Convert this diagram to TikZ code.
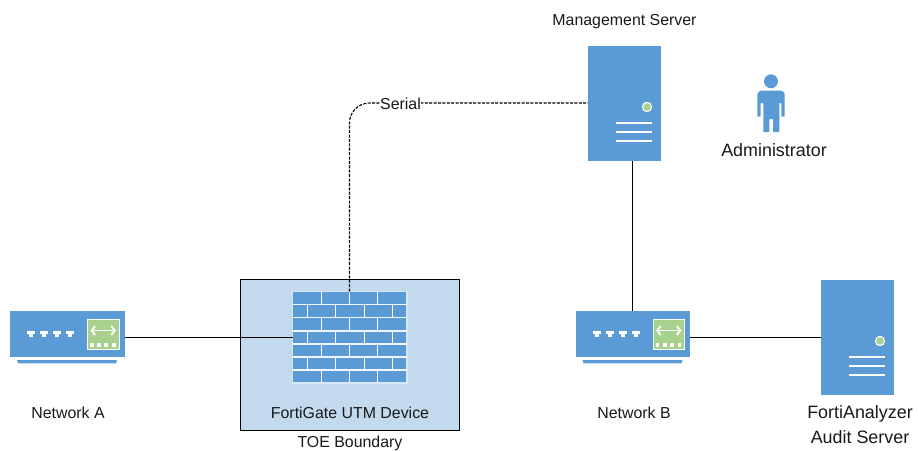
\documentclass[tikz,border=0pt]{standalone}
\usepackage{fontspec}
\setmainfont{Liberation Sans}
\usetikzlibrary{arrows.meta}
\definecolor{iconblue}{HTML}{5B9BD5}
\definecolor{paleblue}{HTML}{C3D9EE}
\definecolor{icongreen}{HTML}{A9D18E}
\tikzset{
  x=1pt,y=-1pt,
  lbl/.style={inner sep=0pt,text=black!90,font=\fontsize{15.9}{18}\selectfont,align=center},
  biglbl/.style={inner sep=0pt,text=black!90,font=\fontsize{17.9}{24.5}\selectfont,align=center},
  iconbody/.style={fill=iconblue,draw=none,inner sep=0pt,outer sep=0pt},
  wline/.style={draw=white,line width=2pt},
  link/.style={draw=black,line width=1.2pt},
  seriallink/.style={draw=black,line width=1.1pt,dash pattern=on 3pt off 1.4pt},
}
\newcommand{\serverIcon}[3]{% name, left, top
  \node[iconbody,anchor=north west,minimum width=72.5pt,minimum height=115pt] (#1) at (#2,#3) {};
  \begin{scope}[shift={(#2,#3)}]
    \fill[icongreen,draw=white,line width=1.1pt] (59,61) circle (4.6);
    \draw[wline] (28,77) -- (64,77) (28,86) -- (64,86) (28,95) -- (64,95);
  \end{scope}}
\newcommand{\switchIcon}[3]{% name, left, top
  \node[iconbody,anchor=north west,minimum width=114.5pt,minimum height=45.5pt] (#1) at (#2,#3) {};
  \begin{scope}[shift={(#2,#3)}]
    \fill[iconblue] (7,48.7) -- (107,48.7) -- (106,52) -- (8,52) -- cycle;
    \foreach \px in {17,30,43,56}{
      \fill[white] (\px,19.5) rectangle +(8.3,3.6);
      \fill[white] (\px+2,23.1) rectangle +(4.3,2.3);
    }
    \fill[icongreen,draw=white,line width=1pt] (77.5,7.7) rectangle (109,38);
    \draw[white,line width=1.8pt,<->,>={Straight Barb[length=3.5pt,width=9pt]}] (80.5,19.2) -- (106,19.2);
    \foreach \px in {80,87.3,94.4,102}{
      \fill[white] (\px,31.8) rectangle +(3.8,3.8);
    }
  \end{scope}}
\begin{document}
\begin{tikzpicture}
\useasboundingbox (0,0) rectangle (918,450);
% TOE boundary
\node[draw=black,fill=paleblue,line width=1.1pt,anchor=north west,minimum width=219pt,minimum height=151pt,inner sep=0pt,outer sep=0pt] (toe) at (240.5,279.5) {};
% firewall
\node[fill=iconblue,anchor=north west,minimum width=114.5pt,minimum height=91.7pt,inner sep=0pt,outer sep=0pt] (fw) at (292.7,291.5) {};
\begin{scope}[shift={(292.7,291.5)}]
  \draw[draw=white!75!iconblue,line width=1.5pt] (0,0) rectangle (114.5,91.7);
  \foreach \r in {1,...,6}{\draw[white!92!iconblue,line width=1.4pt] (0,\r*13.1) -- (114.5,\r*13.1);}
  \foreach \r in {0,2,4,6}{
    \foreach \bx in {29,57,85}{\draw[white,line width=1.4pt] (\bx,\r*13.1) -- (\bx,\r*13.1+13.1);}
  }
  \foreach \r in {1,3,5}{
    \foreach \bx in {15,43,71.5,99.5}{\draw[white,line width=1.4pt] (\bx,\r*13.1) -- (\bx,\r*13.1+13.1);}
  }
\end{scope}
\switchIcon{netA}{10}{311.3}
\switchIcon{netB}{575.5}{311.3}
\serverIcon{mgmt}{588}{46}
\serverIcon{faz}{821}{280}
% administrator
\node[circle,fill=iconblue,minimum size=14pt,inner sep=0pt] (adminhead) at (771,81.3) {};
\fill[iconblue,rounded corners=1.2pt] (757.3,116.7) -- (757.3,96) [rounded corners=4pt] -- (757.3,90.7) -- (784.7,90.7) -- (784.7,96) [rounded corners=0.5pt] -- (784.7,116.7) -- (781.3,116.7) -- (781.3,103) -- (779.3,103) -- (779.3,132) -- (773,132) -- (773,119) -- (769.3,119) -- (769.3,132) -- (763.3,132) -- (763.3,103) -- (760.7,103) -- (760.7,116.7) -- cycle;
% connectors
\coordinate (fwtop) at (349.5,291.5);
\coordinate (mgmtleft) at (mgmt.west |- 0,103);
\draw[link] (netA.east |- 0,337.5) -- (fw.west |- 0,337.5);
\draw[link] (netB.east |- 0,337.5) -- (faz.west |- 0,337.5);
\draw[link] (mgmt.south -| 632.5,0) -- (netB.north -| 632.5,0);
\draw[seriallink,rounded corners=20pt] (fwtop) -- (349.5,103) -- (mgmtleft);
% labels
\node[lbl,fill=white,inner xsep=0.5pt,inner ysep=1pt] (serial) at (400.5,103.5) {Serial};
\node[lbl] (lmgmt) at (624.5,21.5) {Management Server};
\node[biglbl] (ladmin) at (774,150) {Administrator};
\node[lbl] (lneta) at (68,412.5) {Network A};
\node[lbl] (lnetb) at (634,412.5) {Network B};
\node[lbl] (lfg) at (350,412.5) {FortiGate UTM Device};
\node[lbl] (ltoe) at (350,443.5) {TOE Boundary};
\node[biglbl] (lfaz) at (860,424.5) {FortiAnalyzer\\Audit Server};
\end{tikzpicture}
\end{document}
